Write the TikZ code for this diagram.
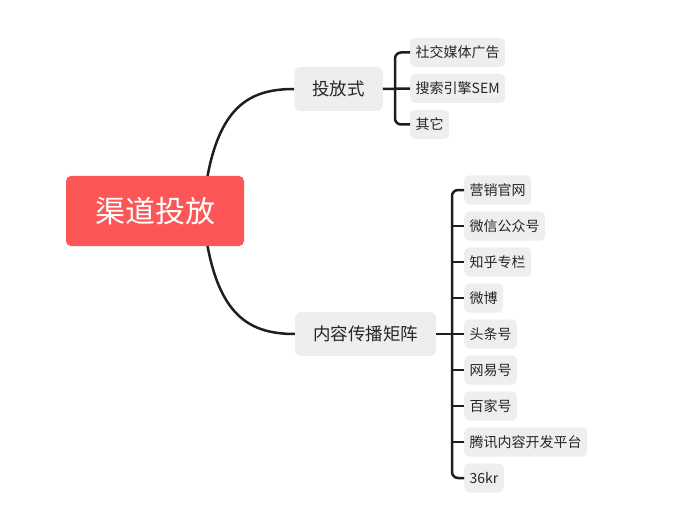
\documentclass[tikz,border=0pt]{standalone}
\usepackage{fontspec}
\setmainfont{Noto Sans CJK SC}
\definecolor{rootred}{HTML}{FD5656}
\definecolor{boxgray}{HTML}{EEEEEE}
\definecolor{linecol}{HTML}{1E1E1E}
\tikzset{
  rootbox/.style={fill=rootred, rounded corners=5pt, text=white, minimum width=178pt, minimum height=70pt, inner sep=0pt, font=\fontsize{30}{34}\selectfont},
  midbox/.style={fill=boxgray, rounded corners=6pt, text=black!85, minimum height=44pt, inner xsep=18pt, inner ysep=0pt, font=\fontsize{17.5}{20}\selectfont},
  leafbox/.style={fill=boxgray, rounded corners=5pt, text=black!85, minimum height=29pt, inner xsep=5.5pt, inner ysep=0pt, font=\fontsize{14}{16}\selectfont, anchor=west},
  conn/.style={draw=linecol, line width=2.5pt},
  spine/.style={draw=linecol, line width=2.5pt, rounded corners=6pt},
}
\begin{document}
\begin{tikzpicture}[x=1pt,y=-1pt]
\useasboundingbox (0,0) rectangle (698,505);
% curves from root
\coordinate (rt) at (203,208);
\coordinate (rb) at (203,214);
\node[midbox] (m1) at (338.5,89) {投放式};
\node[midbox] (m2) at (365.5,334) {内容传播矩阵};
\draw[conn] (rt) .. controls (213,110) and (245,89) .. (m1.west);
\draw[conn] (rb) .. controls (213,312) and (245,334) .. (m2.west);
\node[rootbox] (root) at (155,211) {渠道投放};
% group 1
\node[leafbox] (a1) at (410,52.5) {社交媒体广告};
\node[leafbox] (a2) at (410,88.5) {搜索引擎SEM};
\node[leafbox] (a3) at (410,124.5) {其它};
\draw[spine] (a1.west) -- ++(-15,0) |- (a3.west);
\draw[conn] (m1.east) -- (a2.west);
% group 2
\node[leafbox] (b1) at (464,190) {营销官网};
\node[leafbox] (b2) at (464,226) {微信公众号};
\node[leafbox] (b3) at (464,262) {知乎专栏};
\node[leafbox] (b4) at (464,298) {微博};
\node[leafbox] (b5) at (464,334) {头条号};
\node[leafbox] (b6) at (464,370) {网易号};
\node[leafbox] (b7) at (464,406) {百家号};
\node[leafbox] (b8) at (464,442) {腾讯内容开发平台};
\node[leafbox] (b9) at (464,478) {36kr};
\draw[spine] (b1.west) -- ++(-12,0) |- (b9.west);
\draw[conn] (m2.east) -- (b5.west);
\foreach \n in {b2,b3,b4,b6,b7,b8}{
  \draw[conn] (\n.west) -- ++(-12,0);
}
\end{tikzpicture}
\end{document}
